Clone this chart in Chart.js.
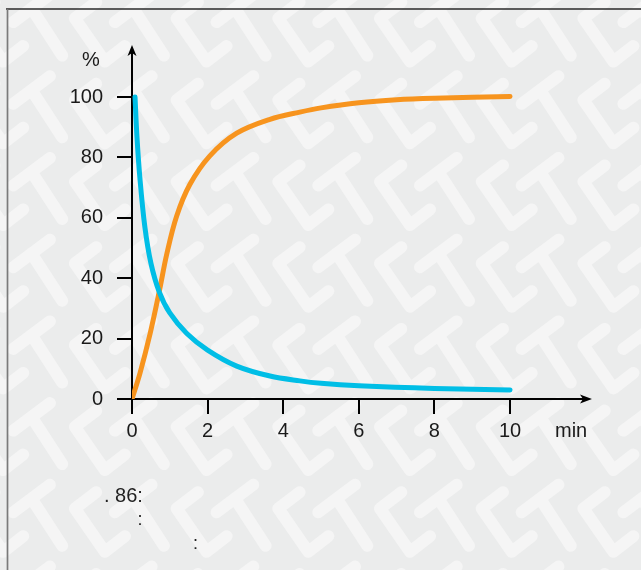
<!DOCTYPE html>
<html><head><meta charset="utf-8">
<script src="https://cdn.jsdelivr.net/npm/chart.js@4.4.1/dist/chart.umd.min.js"></script>
<style>html,body{margin:0;padding:0;background:#ebecec;}canvas{display:block;}</style>
</head><body>
<canvas id="c" width="641" height="570"></canvas>
<script>
// ---- data ----
const xTickValues = [0, 2, 4, 6, 8, 10];
const yTickValues = [0, 20, 40, 60, 80, 100];
const decayTime    = [0.08, 0.13, 0.21, 0.34, 0.5, 0.72, 1.0, 1.45, 2.0, 2.77, 3.65, 4.44, 5.0, 6.0, 8.0, 10];
const decayPercent = [100, 87, 73, 57, 45, 35.5, 28.5, 21.7, 16.2, 10.9, 7.6, 6.0, 5.2, 4.4, 3.5, 3.0];
const riseTime     = [0, 0.21, 0.48, 0.72, 0.92, 1.18, 1.53, 2.06, 2.77, 3.65, 4.44, 5.0, 6.0, 7.0, 8.0, 10];
const risePercent  = [0, 8.5, 21.7, 35.5, 48, 60.5, 71, 80.5, 88, 92.6, 95.0, 96.4, 98.1, 99.1, 99.6, 100.2];
const yUnit = '%';
const xUnit = 'min';
const notes = ['. 86:', ':', ':'];

const FONT = '"Liberation Sans", Arial, Helvetica, sans-serif';
const INK = '#1a1a1a';

const bgPlugin = {
  id: 'bg',
  beforeDraw(chart) {
    const ctx = chart.ctx, w = chart.width, h = chart.height;
    ctx.save();
    ctx.fillStyle = '#ebecec';
    ctx.fillRect(0, 0, w, h);
    ctx.strokeStyle = '#f5f5f5';
    ctx.lineWidth = 12;
    ctx.lineCap = 'round';
    ctx.lineJoin = 'round';
    const DX = 101.7, DY = 81.7;
    for (let i = -6; i <= 3; i++) {
      for (let j = -3; j <= 6; j++) {
        const ox = i * DX, oy = j * DY;
        ctx.beginPath();
        ctx.moveTo(420 + ox, 185.5 + oy); ctx.lineTo(456.7 + ox, 158 + oy);
        ctx.moveTo(438.3 + ox, 171.7 + oy); ctx.lineTo(469 + ox, 219 + oy);
        ctx.moveTo(503 + ox, 165.5 + oy); ctx.lineTo(481.7 + ox, 181.7 + oy);
        ctx.lineTo(511.7 + ox, 225 + oy); ctx.lineTo(531.7 + ox, 209.5 + oy);
        ctx.stroke();
      }
    }
    // frame lines
    ctx.lineCap = 'butt';
    ctx.strokeStyle = '#2a2a2a';
    ctx.lineWidth = 1.4;
    ctx.beginPath(); ctx.moveTo(6, 9); ctx.lineTo(w, 9); ctx.stroke();
    ctx.strokeStyle = '#7a7a7a';
    ctx.lineWidth = 1.7;
    ctx.beginPath(); ctx.moveTo(7.5, 9); ctx.lineTo(7.5, h); ctx.stroke();
    ctx.restore();
  }
};

const decorPlugin = {
  id: 'decor',
  afterDraw(chart) {
    const ctx = chart.ctx, ca = chart.chartArea;
    ctx.save();
    ctx.fillStyle = '#000';
    // y arrow
    ctx.beginPath();
    ctx.moveTo(ca.left, ca.top - 5);
    ctx.lineTo(ca.left - 4.5, ca.top + 6);
    ctx.lineTo(ca.left, ca.top + 3);
    ctx.lineTo(ca.left + 4.5, ca.top + 6);
    ctx.closePath(); ctx.fill();
    // x arrow
    ctx.beginPath();
    ctx.moveTo(ca.right + 6, ca.bottom);
    ctx.lineTo(ca.right - 6, ca.bottom - 4.5);
    ctx.lineTo(ca.right - 3, ca.bottom);
    ctx.lineTo(ca.right - 6, ca.bottom + 4.5);
    ctx.closePath(); ctx.fill();
    // unit labels
    ctx.fillStyle = INK;
    ctx.font = '20px ' + FONT;
    ctx.textAlign = 'left';
    ctx.textBaseline = 'alphabetic';
    ctx.fillText(yUnit, 82, 66);
    ctx.fillText(xUnit, 555, 436.5);
    // notes
    ctx.fillStyle = '#222';
    ctx.fillText(notes[0], 104, 502);
    ctx.font = '18px ' + FONT;
    ctx.fillText(notes[1], 137.5, 525);
    ctx.fillText(notes[2], 193, 549);
    ctx.restore();
  }
};

const axisCommon = {
  type: 'linear',
  grid: { drawOnChartArea: false, drawTicks: true, tickLength: 15, color: '#000', lineWidth: 2 },
  border: { display: true, color: '#000', width: 2 },
};

new Chart(document.getElementById('c'), {
  type: 'line',
  data: {
    datasets: [
      {
        label: 'decay',
        data: decayTime.map((x, i) => ({ x, y: decayPercent[i] })),
        borderColor: '#00bee6', borderWidth: 5, pointRadius: 0,
        tension: 0.35, borderCapStyle: 'round', borderJoinStyle: 'round', fill: false
      },
      {
        label: 'rise',
        data: riseTime.map((x, i) => ({ x, y: risePercent[i] })),
        borderColor: '#f7941e', borderWidth: 5, pointRadius: 0,
        tension: 0.35, borderCapStyle: 'round', borderJoinStyle: 'round', fill: false
      }
    ]
  },
  options: {
    responsive: false, animation: false, devicePixelRatio: 1,
    layout: { padding: { left: 0, top: 50, right: 55, bottom: 0 } },
    plugins: { legend: { display: false }, tooltip: { enabled: false } },
    scales: {
      x: Object.assign({}, axisCommon, {
        min: 0, max: 12.01,
        afterBuildTicks: s => { s.ticks = xTickValues.map(v => ({ value: v })); },
        afterFit: s => { s.height = 171; },
        ticks: { font: { family: FONT, size: 20 }, color: INK, padding: 5, maxRotation: 0, autoSkip: false }
      }),
      y: Object.assign({}, axisCommon, {
        min: 0, max: 115.56,
        afterBuildTicks: s => { s.ticks = yTickValues.map(v => ({ value: v })); },
        afterFit: s => { s.width = 132; },
        ticks: { font: { family: FONT, size: 20 }, color: INK, padding: 14, autoSkip: false }
      })
    }
  },
  plugins: [bgPlugin, decorPlugin]
});
</script>
</body></html>
